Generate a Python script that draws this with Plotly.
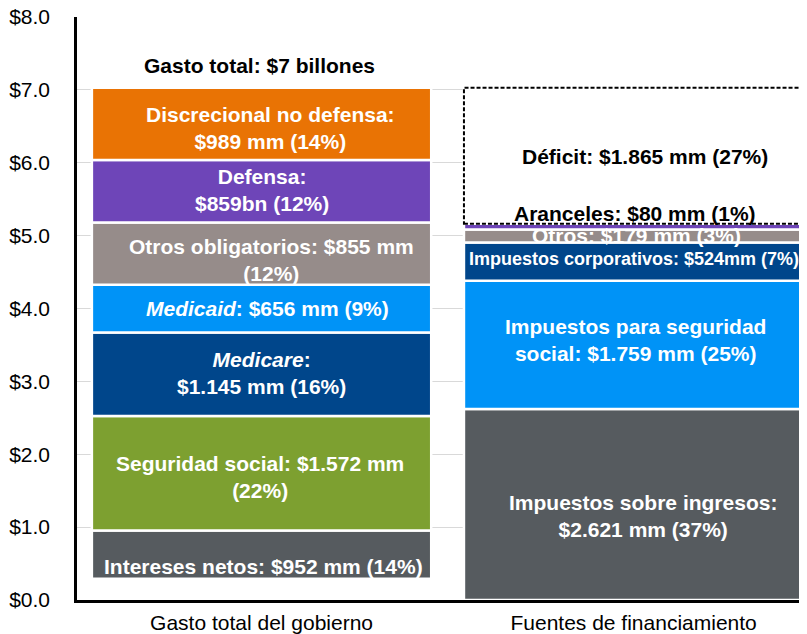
import plotly.graph_objects as go
import numpy as np

categories = ["Gasto total del gobierno", "Fuentes de financiamiento"]

gasto_names = ["Intereses netos", "Seguridad social", "Medicare", "Medicaid",
               "Otros obligatorios", "Defensa", "Discrecional no defensa"]
gasto_values = [0.952, 1.572, 1.145, 0.656, 0.855, 0.859, 0.989]
gasto_text = [
    "Intereses netos: $952 mm (14%)",
    "Seguridad social: $1.572 mm<br>(22%)",
    "<i>Medicare</i>:<br>$1.145 mm (16%)",
    "<i>Medicaid</i>: $656 mm (9%)",
    "Otros obligatorios: $855 mm<br>(12%)",
    "Defensa:<br>$859bn (12%)",
    "Discrecional no defensa:<br>$989 mm (14%)",
]
gasto_total_text = "Gasto total: $7 billones"

fuentes_names = ["Impuestos sobre ingresos", "Impuestos para seguridad social",
                 "Impuestos corporativos", "Otros", "Aranceles", "Déficit"]
fuentes_values = [2.621, 1.759, 0.524, 0.179, 0.080, 1.865]
fuentes_text = [
    "Impuestos sobre ingresos:<br>$2.621 mm (37%)",
    "Impuestos para seguridad<br>social: $1.759 mm (25%)",
    "Impuestos corporativos: $524mm (7%)",
    "Otros: $179 mm (3%)",
    "Aranceles: $80 mm (1%)",
    "Déficit: $1.865 mm (27%)",
]

y_tickvals = [0, 1, 2, 3, 4, 5, 6, 7, 8]
y_ticktext = ["$0.0", "$1.0", "$2.0", "$3.0", "$4.0", "$5.0", "$6.0", "$7.0", "$8.0"]

# ---- styles ----
FONT = "Liberation Sans, Arial, sans-serif"
gasto_colors = ["#565B5F", "#7DA030", "#00468B", "#0093F7", "#968C8A", "#6E45B8", "#E97304"]
fuentes_colors = ["#565B5F", "#0093F7", "#00468B", "#968C8A", "#6E45B8", "#FFFFFF"]
gasto_font = [21, 21, 21, 21, 21, 21, 21]
fuentes_font = [21, 21, 18, 21, 21, 21]
fuentes_textcolor = ["white", "white", "white", "white", "black", "black"]
gasto_shift = [(1.5, -1), (-1.5, -4), (0, 1), (6, 0), (10, -6), (0, 1), (9, -4)]
fuentes_shift = [(9.5, -11), (1.5, 5), (0, 2.6), (3, 1), (1, 13.5), (11, -1)]
interest_base_offset = 0.29  # bottom segment floats above axis in the original
BAR_W = 0.912
LINE_W = 2.5

fig = go.Figure()

# left stack
gbase = np.concatenate([[0], np.cumsum(gasto_values)[:-1]])
for i, (n, v, b) in enumerate(zip(gasto_names, gasto_values, gbase)):
    base = b + (interest_base_offset if i == 0 else 0)
    height = v - (interest_base_offset if i == 0 else 0)
    fig.add_trace(go.Bar(x=[0], y=[height], base=[base], name=n, width=BAR_W,
                         marker=dict(color=gasto_colors[i], line=dict(color="white", width=LINE_W)),
                         hoverinfo="skip", showlegend=False))
    dx, dy = gasto_shift[i]
    fig.add_annotation(x=0, y=b + v / 2, text=f"<b>{gasto_text[i]}</b>", showarrow=False,
                       xshift=dx, yshift=dy, font=dict(family=FONT, size=gasto_font[i], color="white"))

gtotal = float(np.sum(gasto_values))
fig.add_annotation(x=0, y=gtotal, yanchor="bottom", yshift=9, xshift=-2.5,
                   text=f"<b>{gasto_total_text}</b>", showarrow=False,
                   font=dict(family=FONT, size=21, color="black"))

# right stack
fbase = np.concatenate([[0], np.cumsum(fuentes_values)[:-1]])
for i, (n, v, b) in enumerate(zip(fuentes_names, fuentes_values, fbase)):
    fig.add_trace(go.Bar(x=[1], y=[v], base=[b], name=n, width=BAR_W,
                         marker=dict(color=fuentes_colors[i], line=dict(color="white", width=LINE_W)),
                         hoverinfo="skip", showlegend=False))

# dashed outline for deficit
d_i = len(fuentes_values) - 1
fig.add_shape(type="rect", xref="x", yref="y",
              x0=1 - BAR_W / 2, x1=1 + BAR_W / 2,
              y0=fbase[d_i], y1=fbase[d_i] + fuentes_values[d_i],
              line=dict(color="black", width=2, dash="4px,2px"), fillcolor="rgba(0,0,0,0)",
              layer="above")

for i, (v, b) in enumerate(zip(fuentes_values, fbase)):
    dx, dy = fuentes_shift[i]
    fig.add_annotation(x=1, y=b + v / 2, text=f"<b>{fuentes_text[i]}</b>", showarrow=False,
                       xshift=dx, yshift=dy,
                       font=dict(family=FONT, size=fuentes_font[i], color=fuentes_textcolor[i]))

# page body has an 8px default margin; size the figure to the visible window
fig.update_layout(
    width=799, height=626,
    margin=dict(l=69, r=0, t=9, b=34),
    plot_bgcolor="white", paper_bgcolor="white",
    barmode="overlay",
    showlegend=False,
    font=dict(family=FONT, size=21, color="black"),
)
fig.update_xaxes(range=[-0.496, 1.466], tickvals=[0, 1], ticktext=categories,
                 showline=True, linecolor="black", linewidth=LINE_W,
                 showgrid=False, zeroline=False, ticks="", ticklabelstandoff=2,
                 automargin=False, ticklabeloverflow="allow",
                 tickfont=dict(family=FONT, size=21, color="black"), fixedrange=True)
fig.update_yaxes(range=[0, 8], tickvals=y_tickvals, ticktext=y_ticktext,
                 showline=True, linecolor="black", linewidth=LINE_W,
                 showgrid=True, gridcolor="#D9D9D9", gridwidth=1.3, zeroline=False,
                 ticks="", ticklabelstandoff=20, automargin=False, ticklabeloverflow="allow",
                 tickfont=dict(family=FONT, size=21, color="black"), fixedrange=True)

fig.write_html("out.html")
